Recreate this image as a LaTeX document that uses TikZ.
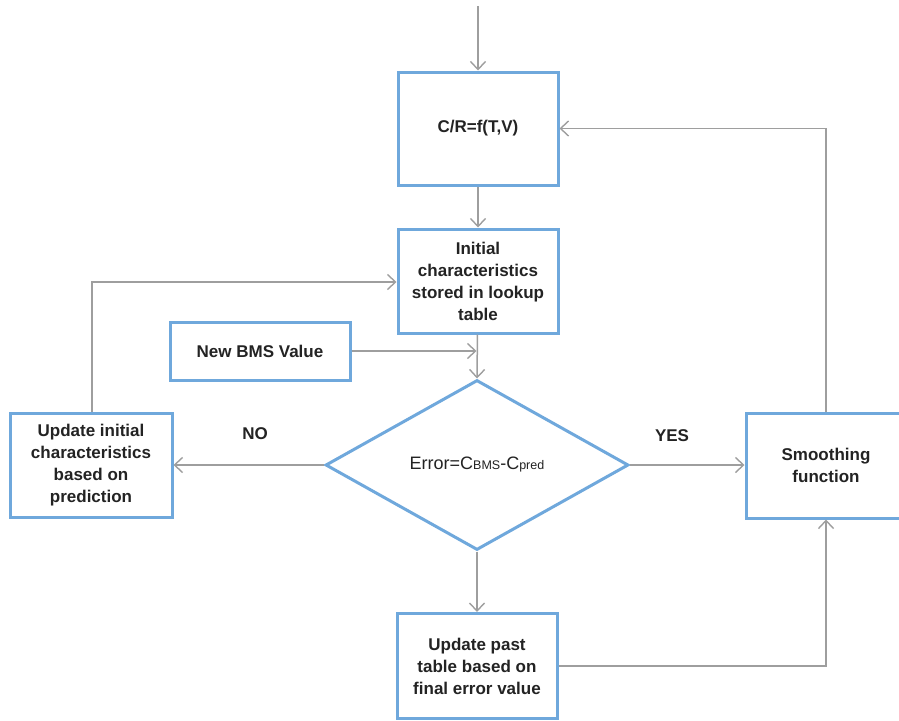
\documentclass[tikz,border=0pt]{standalone}
\usepackage{fontspec}
\setmainfont{Liberation Sans}
\usetikzlibrary{arrows.meta,shapes.geometric}

\definecolor{boxblue}{RGB}{111,168,220}
\definecolor{linegray}{RGB}{158,158,158}
\definecolor{txtgray}{RGB}{35,35,35}

\tikzset{
  blockbox/.style={draw=boxblue, line width=3pt, fill=white, align=center,
    text=txtgray, font=\fontsize{17}{22}\selectfont\bfseries, inner sep=0pt},
  flow/.style={draw=linegray, line width=1.5pt,
    -{Straight Barb[length=8pt,width=15pt,line width=1.4pt]}},
  answer/.style={text=txtgray, font=\fontsize{17}{20}\selectfont\bfseries}
}

\begin{document}
\begin{tikzpicture}[x=1pt, y=-1pt]
        \useasboundingbox (0,0) rectangle (899,720);

        \node[blockbox, minimum width=160pt, minimum height=113pt] (cr) at (478,128.5) {C/R=f(T,V)};
        \node[blockbox, minimum width=160pt, minimum height=104pt] (init) at (478,281) {Initial\\characteristics\\stored in lookup\\table};
        \node[blockbox, minimum width=180pt, minimum height=58pt] (bms) at (260,351) {New BMS Value};
        \node[draw=boxblue, line width=3pt, fill=white, shape=diamond, inner sep=0pt,
              minimum width=303pt, minimum height=170pt, shape aspect=1.78,
              text=txtgray, font=\fontsize{18}{20}\selectfont] (err) at (477,465)
              {Error=C{\fontsize{12.5}{14}\selectfont BMS}-C{\fontsize{12.5}{14}\selectfont pred}};
        \node[blockbox, minimum width=162pt, minimum height=104pt] (upd) at (91,465) {Update initial\\characteristics\\based on\\prediction};
        \node[blockbox, minimum width=160pt, minimum height=105pt] (smooth) at (826,465.5) {Smoothing\\function};
        \node[blockbox, minimum width=160pt, minimum height=105pt] (past) at (477,666) {Update past\\table based on\\final error value};

        \coordinate (start) at (478,6);
        \coordinate (join) at (478,351);

        \node[answer] (no) at (255,434) {NO};
        \node[answer] (yes) at (672,436) {YES};

        \draw[flow] (start) -- (cr);
        \draw[flow] (cr) -- (init);
        \draw[flow] (init) -- (err.north);
        \draw[flow] (bms) -- ([xshift=-1.5pt]join);
        \draw[flow] (err.west) -- (err.west -| upd.east);
        \draw[flow] (err.east) -- (err.east -| smooth.west);
        \draw[flow] (err.south) -- (past.north);
        \draw[flow] ([xshift=1pt]upd.north) |- ([yshift=-1pt]init.west);
        \draw[flow] (smooth.north) |- (cr.east);
        \draw[flow] (past.east) -| (smooth.south);
    \end{tikzpicture}
\end{document}
